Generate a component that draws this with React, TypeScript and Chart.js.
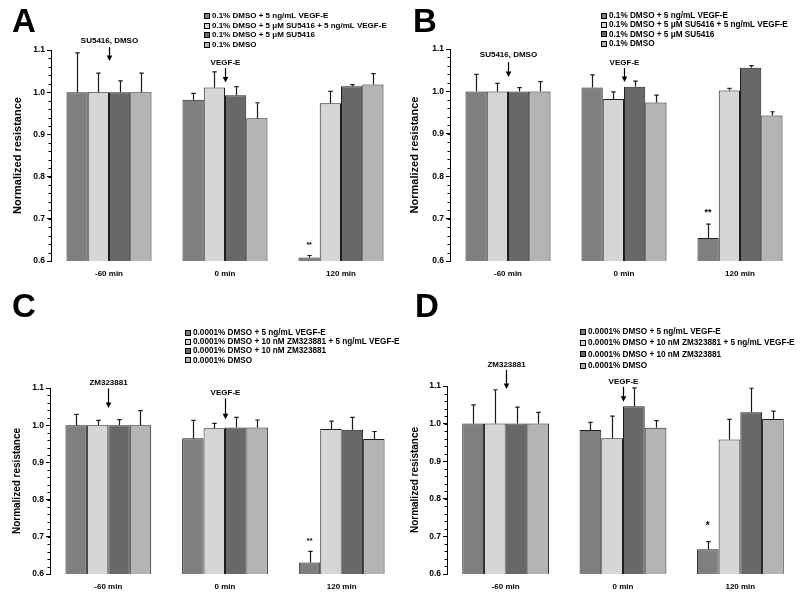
import React, { useEffect, useRef } from "react";
import { Chart, registerables } from "chart.js";

Chart.register(...registerables);

// ---------- shared data ----------
const categories = ["-60 min", "0 min", "120 min"];
const yMin = 0.6;
const yMax = 1.1;
const yMajorStep = 0.1;
const yMinorStep = 0.02;
const yAxisTitle = "Normalized resistance";
const barColors = ["#7f7f7f", "#d6d6d6", "#686868", "#b4b4b4"];

const legendSU5416 = [
  "0.1% DMSO + 5 ng/mL VEGF-E",
  "0.1% DMSO + 5 \u03bcM SU5416 + 5 ng/mL VEGF-E",
  "0.1% DMSO + 5 \u03bcM SU5416",
  "0.1% DMSO",
];
const legendZM = [
  "0.0001% DMSO + 5 ng/mL VEGF-E",
  "0.0001% DMSO + 10 nM ZM323881 + 5 ng/mL VEGF-E",
  "0.0001% DMSO + 10 nM ZM323881",
  "0.0001% DMSO",
];

// ---------- panel A ----------
const aMeans = [
  [1.0, 0.982, 0.608],
  [1.0, 1.011, 0.974],
  [1.0, 0.993, 1.014],
  [1.0, 0.938, 1.018],
];
const aErrors = [
  [0.093, 0.015, 0.005],
  [0.045, 0.037, 0.028],
  [0.027, 0.02, 0.004],
  [0.045, 0.037, 0.026],
];
const aArrows = [
  { label: "SU5416, DMSO", category: 0, textY: 1.121, from: 1.107, to: 1.074 },
  { label: "VEGF-E", category: 1, textY: 1.069, from: 1.057, to: 1.023 },
];
const aStar = { text: "**", series: 0, category: 2, y: 0.638 };

// ---------- panel B ----------
const bMeans = [
  [1.0, 1.009, 0.654],
  [1.0, 0.982, 1.002],
  [1.0, 1.011, 1.056],
  [1.0, 0.974, 0.943],
];
const bErrors = [
  [0.04, 0.03, 0.033],
  [0.019, 0.017, 0.005],
  [0.009, 0.013, 0.005],
  [0.023, 0.017, 0.009],
];
const bArrows = [
  { label: "SU5416, DMSO", category: 0, textY: 1.086, from: 1.069, to: 1.034 },
  { label: "VEGF-E", category: 1, textY: 1.067, from: 1.055, to: 1.022 },
];
const bStar = { text: "**", series: 0, category: 2, y: 0.714 };

// ---------- panel C ----------
const cMeans = [
  [1.0, 0.965, 0.631],
  [1.0, 0.992, 0.99],
  [1.0, 0.994, 0.988],
  [1.0, 0.994, 0.963],
];
const cErrors = [
  [0.029, 0.048, 0.03],
  [0.013, 0.013, 0.021],
  [0.015, 0.027, 0.033],
  [0.039, 0.02, 0.02],
];
const cArrows = [
  { label: "ZM323881", category: 0, textY: 1.114, from: 1.099, to: 1.046 },
  { label: "VEGF-E", category: 1, textY: 1.086, from: 1.072, to: 1.016 },
];
const cStar = { text: "**", series: 0, category: 2, y: 0.69 };

// ---------- panel D ----------
const dMeans = [
  [1.0, 0.983, 0.666],
  [1.0, 0.961, 0.958],
  [1.0, 1.046, 1.03],
  [1.0, 0.989, 1.012],
];
const dErrors = [
  [0.05, 0.02, 0.02],
  [0.09, 0.059, 0.053],
  [0.044, 0.049, 0.064],
  [0.03, 0.019, 0.021],
];
const dArrows = [
  { label: "ZM323881", category: 0, textY: 1.156, from: 1.143, to: 1.092 },
  { label: "VEGF-E", category: 1, textY: 1.11, from: 1.098, to: 1.058 },
];
const dStar = { text: "*", series: 0, category: 2, y: 0.728 };

// ---------- layout (positions / styles only) ----------
const FONT = "'Liberation Sans', Arial, Helvetica, sans-serif";

type Arrow = { label: string; category: number; textY: number; from: number; to: number };
type Star = { text: string; series: number; category: number; y: number };
type Panel = {
  letter: string;
  means: number[][];
  errors: number[][];
  legend: string[];
  arrows: Arrow[];
  star: Star;
  box: { left: number; top: number; width: number; height: number };
  area: { left: number; top: number; right: number; bottom: number };
  legendPos: { x: number; y: number; step: number; font: number };
  letterPos: { x: number; y: number };
  titleX: number;
  titleFont: number;
  starFont: number;
  catPct: number;
};

const panels: Panel[] = [
  {
    letter: "A",
    means: aMeans,
    errors: aErrors,
    legend: legendSU5416,
    arrows: aArrows,
    star: aStar,
    box: { left: 0, top: 0, width: 400, height: 290 },
    area: { left: 51, top: 50, right: 399, bottom: 261 },
    legendPos: { x: 204, y: 16, step: 9.5, font: 8 },
    letterPos: { x: 12, y: 32 },
    titleX: 18,
    titleFont: 11,
    starFont: 7,
    catPct: 0.733,
  },
  {
    letter: "B",
    means: bMeans,
    errors: bErrors,
    legend: legendSU5416,
    arrows: bArrows,
    star: bStar,
    box: { left: 400, top: 0, width: 400, height: 290 },
    area: { left: 50, top: 49, right: 398, bottom: 261 },
    legendPos: { x: 201, y: 15.5, step: 9.4, font: 8.2 },
    letterPos: { x: 13, y: 32 },
    titleX: 15,
    titleFont: 11,
    starFont: 9,
    catPct: 0.733,
  },
  {
    letter: "C",
    means: cMeans,
    errors: cErrors,
    legend: legendZM,
    arrows: cArrows,
    star: cStar,
    box: { left: 0, top: 290, width: 400, height: 308 },
    area: { left: 50, top: 98, right: 400, bottom: 284 },
    legendPos: { x: 185, y: 42.5, step: 9.3, font: 8.2 },
    letterPos: { x: 12, y: 27 },
    titleX: 17,
    titleFont: 10,
    starFont: 8,
    catPct: 0.735,
  },
  {
    letter: "D",
    means: dMeans,
    errors: dErrors,
    legend: legendZM,
    arrows: dArrows,
    star: dStar,
    box: { left: 400, top: 290, width: 400, height: 308 },
    area: { left: 47, top: 96, right: 399, bottom: 284 },
    legendPos: { x: 180, y: 41.7, step: 11.3, font: 8.2 },
    letterPos: { x: 15, y: 27 },
    titleX: 15,
    titleFont: 10,
    starFont: 10,
    catPct: 0.74,
  },
];

function makeDecorPlugin(p: Panel) {
  return {
    id: "decor" + p.letter,
    afterDatasetsDraw(chart: any) {
      const ctx = chart.ctx;
      const ys = chart.scales.y;
      ctx.save();
      ctx.strokeStyle = "#1a1a1a";
      ctx.lineWidth = 1.2;
      p.means.forEach((series, i) => {
        const meta = chart.getDatasetMeta(i);
        series.forEach((m, j) => {
          const el = meta.data[j];
          if (!el) return;
          const x = Math.round(el.x) + 0.5;
          const yTop = ys.getPixelForValue(m + p.errors[i][j]);
          const yBar = el.y;
          ctx.beginPath();
          ctx.moveTo(x, yBar);
          ctx.lineTo(x, yTop);
          ctx.moveTo(x - 2.2, yTop);
          ctx.lineTo(x + 2.2, yTop);
          ctx.stroke();
        });
      });
      ctx.restore();
    },
    afterDraw(chart: any) {
      const ctx = chart.ctx;
      const xs = chart.scales.x;
      const ys = chart.scales.y;
      const ca = chart.chartArea;
      ctx.save();
      // minor ticks on y axis
      ctx.strokeStyle = "#000";
      ctx.lineWidth = 1;
      const nMinor = Math.round((yMax - yMin) / yMinorStep);
      for (let k = 0; k <= nMinor; k++) {
        const v = yMin + k * yMinorStep;
        const py = Math.round(ys.getPixelForValue(v)) + 0.5;
        ctx.beginPath();
        ctx.moveTo(ca.left - 2.5, py);
        ctx.lineTo(ca.left, py);
        ctx.stroke();
      }
      // arrows + labels
      ctx.fillStyle = "#000";
      ctx.font = `bold 8px ${FONT}`;
      ctx.textAlign = "center";
      ctx.textBaseline = "middle";
      p.arrows.forEach((a) => {
        const x = Math.round(xs.getPixelForValue(a.category)) + 0.5;
        const tY = ys.getPixelForValue(a.textY);
        const fY = ys.getPixelForValue(a.from);
        const toY = ys.getPixelForValue(a.to);
        ctx.fillText(a.label, x, tY);
        ctx.lineWidth = 1.2;
        ctx.beginPath();
        ctx.moveTo(x, fY);
        ctx.lineTo(x, toY - 4);
        ctx.stroke();
        ctx.beginPath();
        ctx.moveTo(x - 2.8, toY - 5.5);
        ctx.lineTo(x + 2.8, toY - 5.5);
        ctx.lineTo(x, toY);
        ctx.closePath();
        ctx.fill();
      });
      // significance star
      const sMeta = chart.getDatasetMeta(p.star.series);
      const sEl = sMeta.data[p.star.category];
      if (sEl) {
        ctx.font = `bold ${p.starFont}px ${FONT}`;
        ctx.fillText(p.star.text, sEl.x, ys.getPixelForValue(p.star.y));
      }
      // y axis title
      ctx.save();
      ctx.translate(p.titleX, (ca.top + ca.bottom) / 2);
      ctx.rotate(-Math.PI / 2);
      ctx.font = `bold ${p.titleFont}px ${FONT}`;
      ctx.fillText(yAxisTitle, 0, 0);
      ctx.restore();
      // legend
      ctx.textAlign = "left";
      ctx.font = `bold ${p.legendPos.font}px ${FONT}`;
      p.legend.forEach((label, i) => {
        const cy = p.legendPos.y + i * p.legendPos.step;
        const bx = p.legendPos.x;
        const by = Math.round(cy - 3);
        ctx.fillStyle = barColors[i];
        ctx.fillRect(bx, by, 6, 6);
        ctx.strokeStyle = "#000";
        ctx.lineWidth = 1;
        ctx.strokeRect(bx + 0.5, by + 0.5, 5, 5);
        ctx.fillStyle = "#000";
        ctx.fillText(label, bx + 8, cy);
      });
      // panel letter
      ctx.font = `bold 33px ${FONT}`;
      ctx.textBaseline = "alphabetic";
      ctx.fillText(p.letter, p.letterPos.x, p.letterPos.y);
      ctx.restore();
    },
  };
}

function PanelChart({ p }: { p: Panel }) {
  const ref = useRef<HTMLCanvasElement | null>(null);
  useEffect(() => {
    if (!ref.current) return;
    const chart = new Chart(ref.current, {
      type: "bar",
      data: {
        labels: categories,
        datasets: p.means.map((series, i) => ({
          label: p.legend[i],
          data: series,
          backgroundColor: barColors[i],
          borderColor: "#1e1e1e",
          borderWidth: 1,
          borderSkipped: false,
          categoryPercentage: p.catPct,
          barPercentage: 1.0,
        })),
      },
      options: {
        animation: false,
        responsive: false,
        maintainAspectRatio: false,
        layout: {
          padding: {
            top: p.area.top,
            right: p.box.width - p.area.right,
            bottom: 0,
            left: 0,
          },
        },
        plugins: {
          legend: { display: false },
          title: { display: false },
          tooltip: { enabled: false },
        },
        scales: {
          x: {
            grid: { display: false, drawTicks: false },
            border: { display: false },
            ticks: {
              color: "#000",
              padding: 8,
              font: { family: FONT, size: 8, weight: "bold" },
              maxRotation: 0,
            },
            afterFit: (s: any) => {
              s.height = p.box.height - p.area.bottom;
            },
          },
          y: {
            min: yMin,
            max: yMax,
            grid: { drawOnChartArea: false, drawTicks: true, tickLength: 4, color: "#000" },
            border: { display: true, color: "#000", width: 1 },
            ticks: {
              stepSize: yMajorStep,
              color: "#000",
              padding: 2,
              font: { family: FONT, size: 8.5, weight: "bold" },
              callback: (v: any) => Number(v).toFixed(1),
            },
            afterFit: (s: any) => {
              s.width = p.area.left;
            },
          },
        },
      } as any,
      plugins: [makeDecorPlugin(p)],
    });
    return () => chart.destroy();
  }, [p]);
  return (
    <canvas
      ref={ref}
      width={p.box.width}
      height={p.box.height}
      style={{
        position: "absolute",
        left: p.box.left,
        top: p.box.top,
        width: p.box.width,
        height: p.box.height,
      }}
    />
  );
}

export default function App() {
  return (
    <div
      style={{
        position: "fixed",
        left: 0,
        top: 0,
        width: 800,
        height: 598,
        background: "#fff",
        overflow: "hidden",
      }}
    >
      {panels.map((p) => (
        <PanelChart key={p.letter} p={p} />
      ))}
    </div>
  );
}
